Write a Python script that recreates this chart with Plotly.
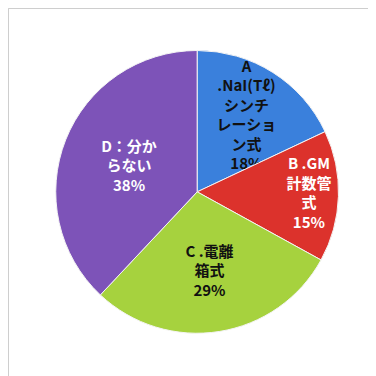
import plotly.graph_objects as go

labels = ["A .NaI(Tℓ)シンチレーション式", "B .GM計数管式", "C .電離箱式", "D：分からない"]
values = [18, 15, 29, 38]
text_lines = [
    "A<br>.NaI(Tℓ)<br>シンチ<br>レーショ<br>ン式<br>18%",
    "B .GM<br>計数管<br>式<br>15%",
    "C .電離<br>箱式<br>29%",
    "D：分か<br>らない<br>38%",
]
colors = ["#3A80DC", "#DC322C", "#A6D23E", "#7D53B8"]
text_colors = ["#111111", "#FFFFFF", "#111111", "#FFFFFF"]

fig = go.Figure(go.Pie(
    labels=labels,
    values=values,
    text=text_lines,
    textinfo="text",
    textposition="inside",
    insidetextorientation="horizontal",
    sort=False,
    direction="clockwise",
    rotation=0,
    marker=dict(colors=colors, line=dict(color="#F4F4F4", width=1)),
    textfont=dict(family="Noto Sans CJK JP", size=15, color=text_colors, weight="bold"),
    domain=dict(x=[0.127, 0.879], y=[0.131, 0.891]),
    showlegend=False,
    hoverinfo="label+percent",
))

fig.update_layout(
    width=376, height=376,
    margin=dict(l=0, r=0, t=0, b=0),
    paper_bgcolor="white",
    uniformtext=dict(minsize=15, mode="show"),
    shapes=[dict(type="rect", xref="paper", yref="paper",
                 x0=0.001, x1=0.971, y0=-0.05, y1=0.999,
                 line=dict(color="#C8C8C8", width=1))],
)

fig.write_html("out.html")
